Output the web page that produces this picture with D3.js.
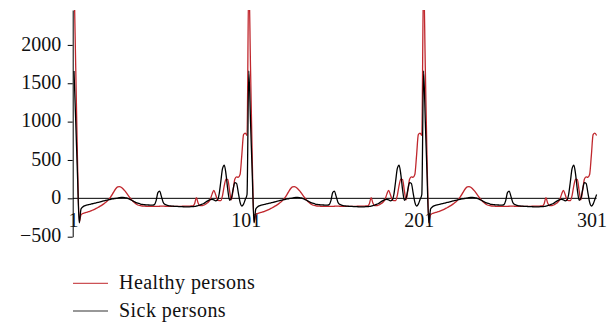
<!DOCTYPE html>
<html><head><meta charset="utf-8">
<script src="https://cdn.jsdelivr.net/npm/d3@7"></script>
<style>
html,body{margin:0;padding:0;background:#fff;}
svg{display:block;font-family:"Liberation Serif","Times New Roman",serif;}
</style>
</head><body>
<svg id="chart" width="613" height="322"></svg>
<script>
// ---- data ----
const xTickValues = [1, 101, 201, 301];
const yTickValues = [-500, 0, 500, 1000, 1500, 2000];
const seriesNames = ["Healthy persons", "Sick persons"];
const seriesColors = ["#c0272d", "#000000"];

const healthy = [
2900,1700,500,-310,-215,-198,-190,-184,-177,-170,-160,-150,-140,-128,-115,-102,-88,-72,-55,-35,-10,20,55,95,128,148,152,145,125,100,70,38,8,-20,-45,-65,-80,-90,-96,-100,-102,-103,-104,-105,-105,-105,-105,-105,-104,-103,-102,-102,-103,-104,-105,-105,-105,-105,-105,-105,-104,-104,-103,-103,-102,-102,-101,-100,-98,-70,8,-60,-95,-96,-90,-80,-65,-45,-10,55,105,50,-15,-30,-30,40,170,250,245,100,-20,100,250,280,275,310,560,830,850,820,
2900,1700,500,-310,-215,-198,-190,-184,-177,-170,-160,-150,-140,-128,-115,-102,-88,-72,-55,-35,-10,20,55,95,128,148,152,145,125,100,70,38,8,-20,-45,-65,-80,-90,-96,-100,-102,-103,-104,-105,-105,-105,-105,-105,-104,-103,-102,-102,-103,-104,-105,-105,-105,-105,-105,-105,-104,-104,-103,-103,-102,-102,-101,-100,-98,-70,8,-60,-95,-96,-90,-80,-65,-45,-10,55,105,50,-15,-30,-30,40,170,250,245,100,-20,100,250,280,275,310,560,830,850,820,
2900,1700,500,-310,-215,-198,-190,-184,-177,-170,-160,-150,-140,-128,-115,-102,-88,-72,-55,-35,-10,20,55,95,128,148,152,145,125,100,70,38,8,-20,-45,-65,-80,-90,-96,-100,-102,-103,-104,-105,-105,-105,-105,-105,-104,-103,-102,-102,-103,-104,-105,-105,-105,-105,-105,-105,-104,-104,-103,-103,-102,-102,-101,-100,-98,-70,8,-60,-95,-96,-90,-80,-65,-45,-10,55,105,50,-15,-30,-30,40,170,250,245,100,-20,100,250,280,275,310,560,830,850,820
];

const sick = [
1660,1000,300,-320,-140,-112,-98,-90,-84,-78,-73,-68,-63,-57,-51,-45,-39,-33,-28,-23,-18,-13,-8,-4,0,4,8,11,12,10,5,-3,-13,-25,-37,-49,-59,-67,-74,-79,-82,-84,-86,-87,-88,-88,-82,-30,75,95,25,-50,-78,-88,-94,-98,-101,-103,-105,-106,-107,-108,-109,-110,-110,-110,-110,-109,-107,-104,-100,-95,-88,-80,-70,-56,-40,-27,-18,-14,-20,-32,-25,50,220,390,434,310,110,-25,0,115,205,195,75,-50,-100,-75,-15,50,
1660,1000,300,-320,-140,-112,-98,-90,-84,-78,-73,-68,-63,-57,-51,-45,-39,-33,-28,-23,-18,-13,-8,-4,0,4,8,11,12,10,5,-3,-13,-25,-37,-49,-59,-67,-74,-79,-82,-84,-86,-87,-88,-88,-82,-30,75,95,25,-50,-78,-88,-94,-98,-101,-103,-105,-106,-107,-108,-109,-110,-110,-110,-110,-109,-107,-104,-100,-95,-88,-80,-70,-56,-40,-27,-18,-14,-20,-32,-25,50,220,390,434,310,110,-25,0,115,205,195,75,-50,-100,-75,-15,50,
1660,1000,300,-320,-140,-112,-98,-90,-84,-78,-73,-68,-63,-57,-51,-45,-39,-33,-28,-23,-18,-13,-8,-4,0,4,8,11,12,10,5,-3,-13,-25,-37,-49,-59,-67,-74,-79,-82,-84,-86,-87,-88,-88,-82,-30,75,95,25,-50,-78,-88,-94,-98,-101,-103,-105,-106,-107,-108,-109,-110,-110,-110,-110,-109,-107,-104,-100,-95,-88,-80,-70,-56,-40,-27,-18,-14,-20,-32,-25,50,220,390,434,310,110,-25,0,115,205,195,75,-50,-100,-75,-15,50
];

// ---- layout ----
const svg = d3.select("#chart");
const axisX = 72.7, plotTop = 10, plotBottom = 236.7;

const x = d3.scaleLinear().domain([1, healthy.length]).range([74, 596.6]);
const xLabel = d3.scaleLinear().domain([1, 301]).range([73, 591.5]);
const y = d3.scaleLinear().domain([-500, 2455]).range([plotBottom, plotTop]);

svg.append("defs").append("clipPath").attr("id", "clip")
  .append("rect").attr("x", axisX).attr("y", plotTop)
  .attr("width", 613 - axisX).attr("height", plotBottom - plotTop + 20);

// zero line
svg.append("line")
  .attr("x1", axisX).attr("x2", x(healthy.length))
  .attr("y1", y(0)).attr("y2", y(0))
  .attr("stroke", "#000").attr("stroke-width", 1);

// y axis
const yAxis = svg.append("g").attr("transform", `translate(${axisX},0)`)
  .call(d3.axisLeft(y).tickValues(yTickValues).tickSize(5).tickSizeOuter(0).tickPadding(6.5)
        .tickFormat(d => d < 0 ? "\u2212" + Math.abs(d) : String(d)));
yAxis.select(".domain").attr("stroke", "#000").attr("stroke-width", 1);
yAxis.selectAll(".tick line").attr("stroke", "#000");
yAxis.selectAll("text").attr("font-size", 20).attr("fill", "#111").attr("dy", "0.26em")
  .attr("font-family", '"Liberation Serif","Times New Roman",serif');

// x labels
const xAxis = svg.append("g").attr("transform", `translate(0,${y(0)})`)
  .call(d3.axisBottom(xLabel).tickValues(xTickValues).tickSize(0).tickPadding(14.5));
xAxis.select(".domain").remove();
xAxis.selectAll("text").attr("font-size", 20).attr("fill", "#111")
  .attr("font-family", '"Liberation Serif","Times New Roman",serif');

// lines
const line = d3.line().x((d, i) => x(i + 1)).y(d => y(d)).curve(d3.curveMonotoneX);
const g = svg.append("g").attr("clip-path", "url(#clip)");
[healthy, sick].forEach((s, si) => {
  g.append("path").datum(s).attr("d", line)
    .attr("fill", "none").attr("stroke", seriesColors[si])
    .attr("stroke-width", 1.3).attr("stroke-linejoin", "round");
});

// legend
const legendY = [283.3, 311];
const leg = svg.append("g");
seriesNames.forEach((name, i) => {
  leg.append("line").attr("x1", 73).attr("x2", 108)
    .attr("y1", legendY[i]).attr("y2", legendY[i])
    .attr("stroke", seriesColors[i]).attr("stroke-width", 1.2).attr("opacity", 0.8);
  leg.append("text").attr("x", 119).attr("y", legendY[i] + 6)
    .attr("font-size", 20).attr("letter-spacing", "0.45px").attr("fill", "#111").text(name);
});
</script>
</body></html>
